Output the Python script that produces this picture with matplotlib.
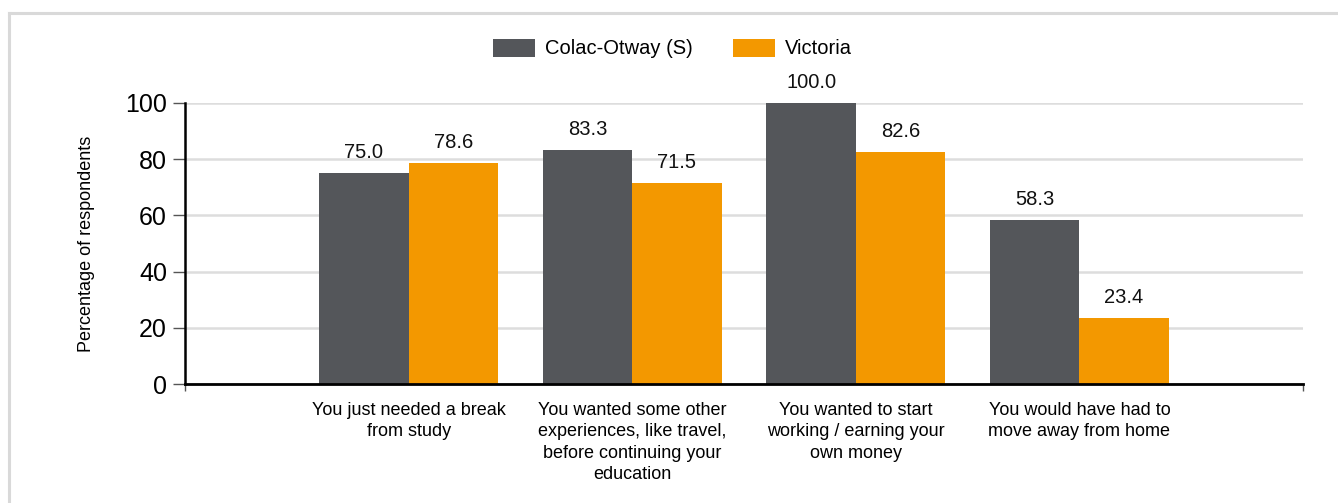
import matplotlib

matplotlib.use("Agg")
import matplotlib.pyplot as plt
from matplotlib.lines import Line2D

plt.rcParams["font.family"] = ["Liberation Sans", "DejaVu Sans"]

CATEGORIES = [
    "You just needed a break\nfrom study",
    "You wanted some other\nexperiences, like travel,\nbefore continuing your\neducation",
    "You wanted to start\nworking / earning your\nown money",
    "You would have had to\nmove away from home",
]
SERIES_NAMES = ["Colac-Otway (S)", "Victoria"]
COLAC = [75.0, 83.3, 100.0, 58.3]
VICTORIA = [78.6, 71.5, 82.6, 23.4]
Y_TICKS = [0, 20, 40, 60, 80, 100]

COLORS = ["#54565A", "#F39800"]
GRID = "#DDDDDD"


def main() -> None:
    fig = plt.figure(figsize=(13.38, 5.03), dpi=100)
    ax = fig.add_axes([185 / 1338, 1 - 384 / 503, (1303 - 185) / 1338, (384 - 103) / 503])

    # light frame at top and left of the figure
    fig.add_artist(Line2D([9 / 1338, 1.0], [1 - 13 / 503] * 2, color="#D9D9D9", lw=2.2))
    fig.add_artist(Line2D([9 / 1338] * 2, [0.0, 1 - 13 / 503], color="#D9D9D9", lw=2.2))

    width = 0.4
    xs = list(range(1, len(CATEGORIES) + 1))
    for offset, values, color, name in [
        (-width / 2, COLAC, COLORS[0], SERIES_NAMES[0]),
        (width / 2, VICTORIA, COLORS[1], SERIES_NAMES[1]),
    ]:
        bars = ax.bar([x + offset for x in xs], values, width=width, color=color,
                      label=name, zorder=3)
        for bar, value in zip(bars, values):
            ax.annotate(f"{value:.1f}", xy=(bar.get_x() + bar.get_width() / 2, value),
                        xytext=(0, 8), textcoords="offset points", ha="center",
                        va="bottom", fontsize=14.5, color="#111111", clip_on=False)

    ax.set_xlim(0, 5)
    ax.set_ylim(0, 100)
    ax.set_yticks(Y_TICKS)
    ax.set_yticklabels([str(t) for t in Y_TICKS], fontsize=18)
    ax.set_xticks(xs)
    ax.set_xticklabels(CATEGORIES, fontsize=13, linespacing=1.33, va="top")
    ax.set_xticks([0, 5], minor=True)
    ax.tick_params(axis="x", which="major", length=0, pad=13)
    ax.tick_params(axis="x", which="minor", length=5, color="#555555", width=1)
    ax.tick_params(axis="y", length=9, color="#555555", width=1, pad=4)

    ax.grid(axis="y", color=GRID, lw=1.8, zorder=0)
    ax.set_axisbelow(True)
    for side in ("top", "right"):
        ax.spines[side].set_visible(False)
    ax.spines["left"].set_linewidth(1.8)
    ax.spines["bottom"].set_linewidth(2.0)
    ax.spines["left"].set_zorder(4)
    ax.spines["bottom"].set_zorder(4)

    ax.set_ylabel("Percentage of respondents", fontsize=13, labelpad=22)

    ax.legend(loc="lower center", bbox_to_anchor=(0.436, 1.094), ncol=2, frameon=False,
              fontsize=14.5, handlelength=2.1, handleheight=1.0, columnspacing=2.0,
              handletextpad=0.5)

    fig.savefig("out.png", dpi=100)


if __name__ == "__main__":
    main()
